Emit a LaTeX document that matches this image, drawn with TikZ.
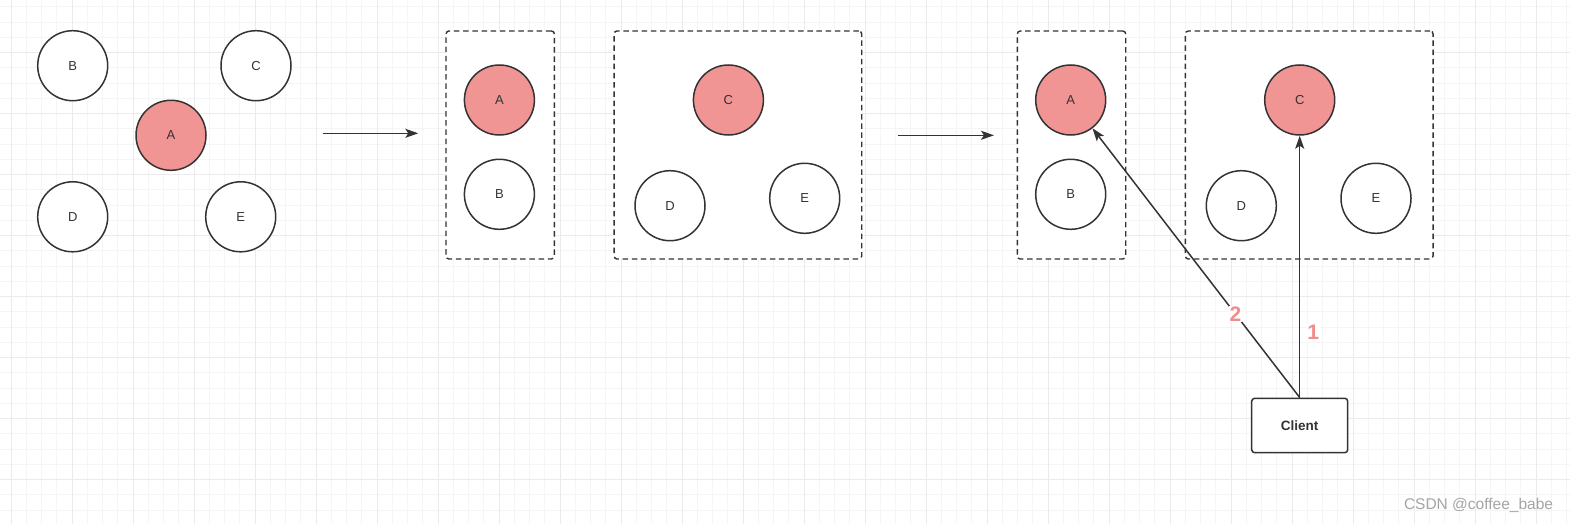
\documentclass[tikz,border=0pt]{standalone}
\usepackage{fontspec}
\setmainfont{Liberation Sans}
\usetikzlibrary{arrows.meta}
\definecolor{dark}{RGB}{51,51,51}
\definecolor{pinkfill}{RGB}{241,148,148}
\definecolor{pinktext}{RGB}{241,140,140}
\definecolor{gminor}{RGB}{245,245,245}
\definecolor{gmajor}{RGB}{235,235,235}
\definecolor{wmark}{RGB}{165,165,165}
\tikzset{
  circ/.style={circle, draw=dark, line width=1.5pt, minimum size=70pt, inner sep=0pt, fill=white, text=dark, font=\fontsize{13}{15}\selectfont},
  hot/.style={circ, fill=pinkfill},
  grp/.style={draw=dark, line width=1.4pt, dash pattern=on 5.5pt off 3.7pt, rounded corners=3pt, fill=white, inner sep=0pt},
  arr/.style={draw=dark, line width=1.5pt, -{Stealth[length=13pt,width=9pt,inset=3pt]}},
  clientbox/.style={draw=dark, line width=1.5pt, rounded corners=3pt, fill=white, minimum width=96pt, minimum height=54.4pt, inner sep=0pt, text=dark, font=\bfseries\fontsize{13.5}{15}\selectfont},
  lbl/.style={fill=white, inner sep=1pt, text=pinktext, font=\bfseries\fontsize{21}{23}\selectfont},
}
\begin{document}
\begin{tikzpicture}[x=1pt,y=-1pt]
\useasboundingbox (0,0) rectangle (1570,524);
\fill[white] (0,0) rectangle (1570,524);
% grid
\foreach \i in {0,...,103} {
  \draw[gminor, line width=1pt] ({11+15.25*\i},0) -- ({11+15.25*\i},524);
}
\foreach \j in {0,...,35} {
  \draw[gminor, line width=1pt] (0,{-8.3+15.25*\j}) -- (1570,{-8.3+15.25*\j});
}
\foreach \i in {0,...,25} {
  \draw[gmajor, line width=1pt] ({11+61*\i},0) -- ({11+61*\i},524);
}
\foreach \j in {1,...,9} {
  \draw[gmajor, line width=1pt] (0,{-8.3+61*\j}) -- (1570,{-8.3+61*\j});
}

% left cluster
\node[circ] (lB) at (72.7,65.7) {B};
\node[circ] (lC) at (256,65.7) {C};
\node[hot]  (lA) at (171,135.3) {A};
\node[circ] (lD) at (72.7,216.8) {D};
\node[circ] (lE) at (240.7,216.8) {E};

% arrow 1
\coordinate (a1s) at (322.7,133.3);
\coordinate (a1e) at (418.3,133.3);
\draw[arr] (a1s) -- (a1e);

% middle groups
\node[grp, minimum width=108.4pt, minimum height=228pt] (mg1) at (500.2,145) {};
\node[grp, minimum width=247.7pt, minimum height=228pt] (mg2) at (737.9,145) {};
\node[hot]  (mA) at (499.4,100) {A};
\node[circ] (mB) at (499.4,194.3) {B};
\node[hot]  (mC) at (728.4,100) {C};
\node[circ] (mD) at (670,205.7) {D};
\node[circ] (mE) at (804.7,198.3) {E};

% arrow 2
\coordinate (a2s) at (897.7,135.3);
\coordinate (a2e) at (994,135.3);
\draw[arr] (a2s) -- (a2e);

% right groups
\node[grp, minimum width=108.4pt, minimum height=228pt] (rg1) at (1071.5,145) {};
\node[grp, minimum width=247.7pt, minimum height=228pt] (rg2) at (1309.2,145) {};
\node[hot]  (rA) at (1070.7,100) {A};
\node[circ] (rB) at (1070.7,194.3) {B};
\node[hot]  (rC) at (1299.7,100) {C};
\node[circ] (rD) at (1241.3,205.7) {D};
\node[circ] (rE) at (1376,198.3) {E};

% client
\node[clientbox] (client) at (1299.7,425.5) {Client};
\draw[arr] (client.north) -- (rC) node[lbl, pos=0.25, right=6pt] {1};
\draw[arr] (client.north) -- (rA) node[lbl, pos=0.31] {2};

% watermark
\node[text=wmark, font=\fontsize{15.5}{17}\selectfont, inner sep=0pt] (wm) at (1478.5,505.5) {CSDN @coffee\_babe};
\end{tikzpicture}
\end{document}
